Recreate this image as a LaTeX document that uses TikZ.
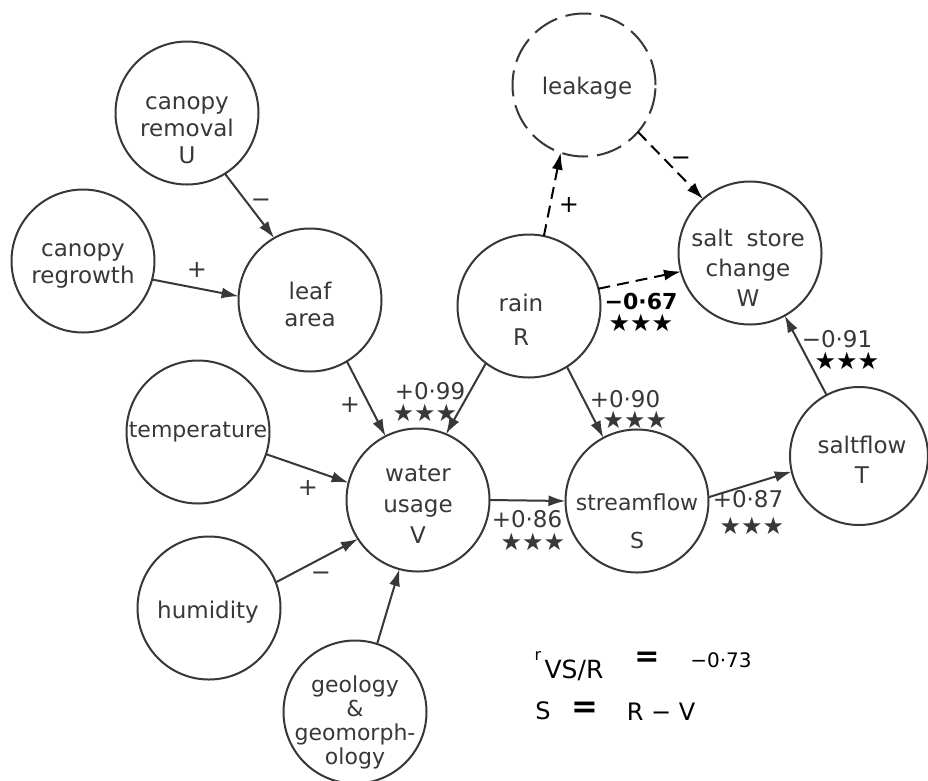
\documentclass[tikz,border=0pt]{standalone}
\usepackage{fontspec}
\setmainfont{DejaVu Sans}
\usetikzlibrary{arrows.meta}
\definecolor{ink}{HTML}{383838}
\begin{document}
\begin{tikzpicture}[x=1pt,y=-1pt,
  circ/.style={circle,draw=ink,line width=2pt,minimum size=143pt,inner sep=0pt,outer sep=0pt},
  dcirc/.style={circ,dash pattern=on 26pt off 9pt},
  txt/.style={text=ink,font=\fontsize{23}{27}\selectfont,align=center,inner sep=0pt},
  num/.style={text=ink,font=\fontsize{23}{23}\selectfont,inner sep=0pt,text height=16pt,text depth=0pt},
  stars/.style={text=ink,font=\fontsize{24}{24}\selectfont,inner sep=0pt,text height=15pt,text depth=0pt},
  sgn/.style={text=ink,font=\fontsize{24}{24}\selectfont,inner sep=0pt,text height=15pt,text depth=0pt},
  arr/.style={draw=ink,line width=2pt,-{Latex[length=17pt,width=11pt]}},
  darr/.style={arr,draw=black,dash pattern=on 12pt off 7pt},
]
\fill[white] (0,0) rectangle (928,780);
\useasboundingbox (0,0) rectangle (928,780);

% circles
\node[circ] (U) at (187,113) {};
\node[circ] (G) at (83,261) {};
\node[circ] (L) at (310,300) {};
\node[circ] (Tm) at (198,432) {};
\node[circ] (H) at (209,608) {};
\node[circ] (Ge) at (355,712) {};
\node[circ] (V) at (418,500) {};
\node[circ] (R) at (529,306) {};
\node[circ] (S) at (637,501) {};
\node[circ,minimum size=138pt] (T) at (859,456) {};
\node[circ] (W) at (750,253) {};
\node[dcirc] (K) at (584,85) {};

% circle texts
\node[txt] (Ut) at (187,130) {canopy\\removal\\U};
\node[txt] (Gt) at (83,266) {canopy\\regrowth};
\node[txt] (Lt) at (310,304) {leaf\\area};
\node[txt,font=\fontsize{22}{27}\selectfont] (Tmt) at (198,432) {temperature};
\node[txt] (Ht) at (208,612) {humidity};
\node[txt,font=\fontsize{22}{24}\selectfont] (Get) at (355,722) {geology\\\&\\geomorph-\\ology};
\node[txt,font=\fontsize{23}{31}\selectfont] (Vt) at (418,504) {water\\usage\\V};
\node[txt,font=\fontsize{23}{34}\selectfont] (Rt) at (521,320) {rain\\R};
\node[txt,font=\fontsize{22}{38}\selectfont] (St) at (637,521) {streamflow\\S};
\node[txt,font=\fontsize{23}{30}\selectfont] (Tt) at (862,460) {saltflow\\T};
\node[txt,font=\fontsize{23}{30}\selectfont] (Wt) at (748,268) {salt\hspace{0.6em}store\\change\\W};
\node[txt] (Kt) at (587,88) {leakage};

% connectors
\draw[arr] (U.-58) -- (L.120);
\draw[arr] (G.-15) -- (L.177);
\draw[arr] (L.-59) -- (V.117);
\draw[arr] (Tm.-18) -- (V.166);
\draw[arr] (H.21) -- (V.-147);
\draw[arr] (Ge.72) -- (V.-105);
\draw[arr] (R.-127) -- (V.67);
\draw[arr] (R.-58) -- (S.118);
\draw[arr] (V.0) -- (S.180);
\draw[arr] (S.3) -- (T.-167);
\draw[arr] (T.118) -- (W.-61);
\draw[darr] (R.14) -- (W.-165);
\draw[darr] (R.78) -- (K.-109);
\draw[darr] (K.-41) -- (W.131);

% signs
\node[sgn] (s1) at (261,200) {−};
\node[sgn] (s2) at (197,270) {+};
\node[sgn] (s3) at (350,405) {+};
\node[sgn] (s4) at (308,488) {+};
\node[sgn] (s5) at (321,573) {−};
\node[sgn,text=black] (s6) at (569,205) {+};
\node[sgn,text=black] (s7) at (681,158) {−};

% coefficients
\node[num] (c1) at (430,391) {+0·99};
\node[stars] (c1s) at (425,414) {★★★};
\node[num] (c2) at (625,399) {+0·90};
\node[stars] (c2s) at (635,421) {★★★};
\node[num] (c3) at (527,519) {+0·86};
\node[stars] (c3s) at (533,543) {★★★};
\node[num] (c4) at (748,499) {+0·87};
\node[stars] (c4s) at (752,527) {★★★};
\node[num] (c5) at (837,339) {−0·91};
\node[stars,text=black] (c5s) at (847,362) {★★★};
\node[num,text=black,font=\bfseries\fontsize{22}{22}\selectfont] (c6) at (641,301) {−0·67};
\node[stars,text=black] (c6s) at (641,324) {★★★};

% equations
\node[text=black,inner sep=0pt,font=\fontsize{16}{16}\selectfont] (er) at (538,656) {r};
\node[text=black,inner sep=0pt,font=\fontsize{25}{25}\selectfont] (evs) at (574,670) {VS/R};
\node[text=black,inner sep=0pt,font=\bfseries\fontsize{30}{30}\selectfont] (eq1) at (647,659) {=};
\node[text=black,inner sep=0pt,font=\fontsize{20}{20}\selectfont] (ev) at (721,660) {−0·73};
\node[text=black,inner sep=0pt,font=\fontsize{24}{24}\selectfont] (es) at (543,711) {S};
\node[text=black,inner sep=0pt,font=\bfseries\fontsize{32}{32}\selectfont] (eq2) at (585,710) {=};
\node[text=black,inner sep=0pt,font=\fontsize{24}{24}\selectfont] (erv) at (661,712) {R − V};
\end{tikzpicture}
\end{document}
